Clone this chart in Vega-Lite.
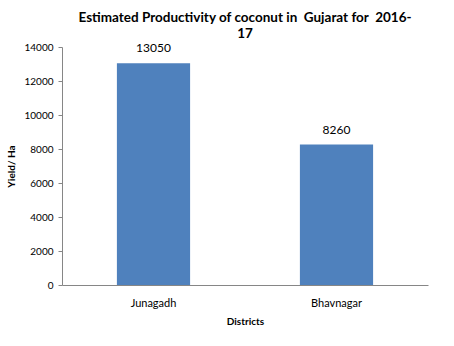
{
  "$schema": "https://vega.github.io/schema/vega-lite/v6.json",
  "autosize": "none",
  "width": 366,
  "height": 238,
  "padding": {"left": 62, "top": 47, "right": 26, "bottom": 61},
  "background": "white",
  "title": {
    "text": ["Estimated Productivity of coconut in\u00a0 Gujarat for\u00a0 2016-", "17"],
    "anchor": "middle",
    "font": "Lato",
    "fontSize": 13.5,
    "fontWeight": "bold",
    "color": "#000000",
    "lineHeight": 16,
    "offset": 2
  },
  "data": {
    "values": [
      {"District": "Junagadh", "Yield": 13050},
      {"District": "Bhavnagar", "Yield": 8260}
    ]
  },
  "encoding": {
    "x": {
      "field": "District",
      "type": "nominal",
      "sort": null,
      "scale": {"paddingInner": 0.6, "paddingOuter": 0.3},
      "axis": {
        "title": "Districts",
        "labelAngle": 0,
        "ticks": false,
        "labelPadding": 12,
        "titlePadding": 8
      }
    },
    "y": {
      "field": "Yield",
      "type": "quantitative",
      "scale": {"domain": [0, 14000], "nice": false},
      "axis": {
        "title": "Yield/ Ha",
        "values": [0, 2000, 4000, 6000, 8000, 10000, 12000, 14000],
        "format": "d",
        "grid": false,
        "tickSize": 4,
        "labelPadding": 5,
        "titlePadding": 7
      }
    }
  },
  "layer": [
    {"mark": {"type": "bar", "color": "#4F81BD"}},
    {
      "mark": {"type": "text", "baseline": "bottom", "dy": -8, "font": "Lato", "fontSize": 12, "color": "#000000"},
      "encoding": {"text": {"field": "Yield", "type": "quantitative", "format": "d"}}
    }
  ],
  "config": {
    "view": {"stroke": null},
    "axis": {
      "labelFont": "Lato",
      "labelFontSize": 10,
      "labelColor": "#000000",
      "titleFont": "Lato",
      "titleFontSize": 10,
      "titleFontWeight": "bold",
      "titleColor": "#000000",
      "domainColor": "#868686",
      "tickColor": "#868686"
    },
    "axisX": {"labelFontSize": 11}
  }
}
